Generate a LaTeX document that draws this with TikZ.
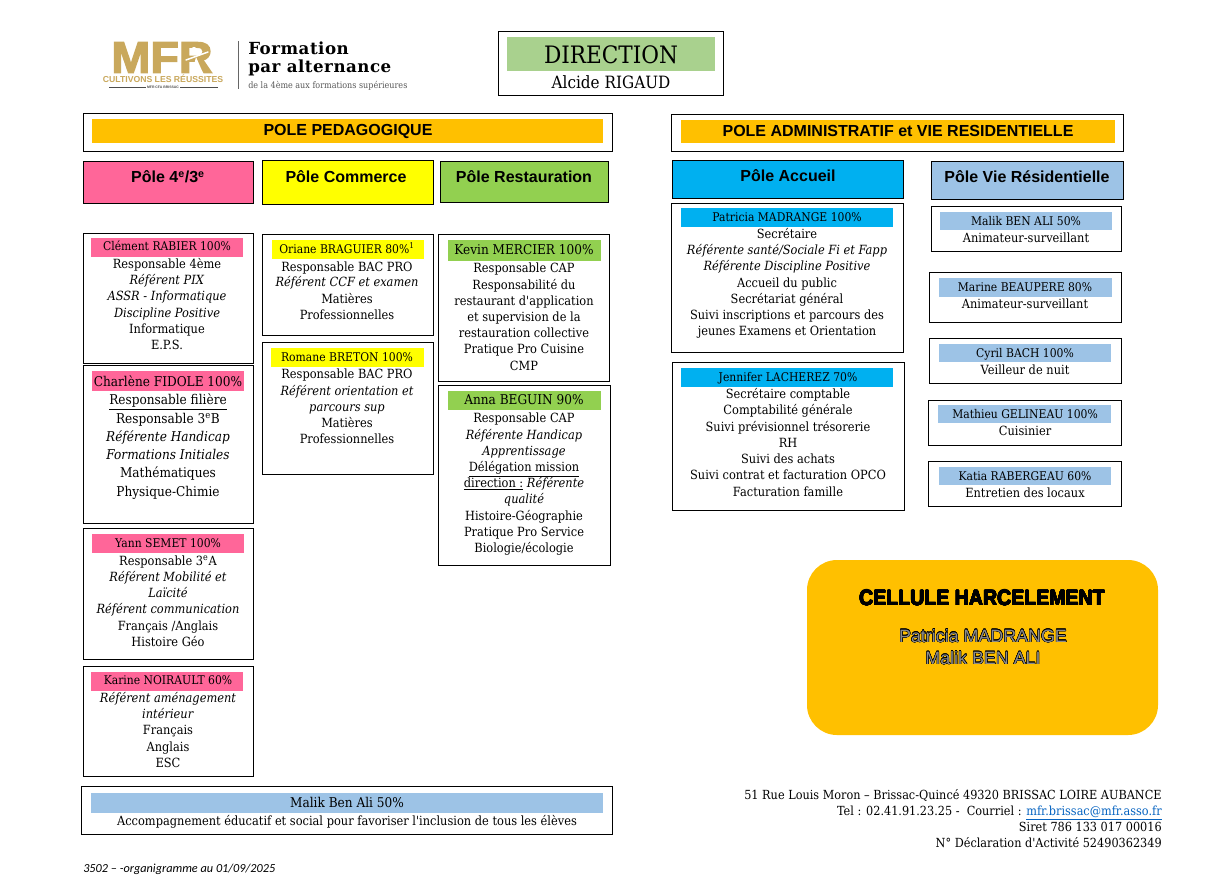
\documentclass[tikz,border=0pt]{standalone}
\usepackage{fontspec}
\usepackage{contour}
\setmainfont{DejaVu Serif}[FakeStretch=0.9,Ligatures=TeXOff]
\newfontfamily\headf{Liberation Sans}
\newfontfamily\cellf{Liberation Sans}[FakeStretch=0.9]
\newfontfamily\logof{Liberation Sans}[FakeStretch=1.06,FakeBold=3]
\newfontfamily\titlef{DejaVu Serif}[LetterSpace=3]
\newfontfamily\footf{Carlito}
\definecolor{cpink}{HTML}{FF6699}
\definecolor{cyel}{HTML}{FFFF00}
\definecolor{cgreen}{HTML}{92D050}
\definecolor{cblue}{HTML}{00B0F0}
\definecolor{cpale}{HTML}{9DC3E6}
\definecolor{cgold}{HTML}{FFC000}
\definecolor{cdir}{HTML}{A9D18E}
\definecolor{clogo}{HTML}{C9A85C}
\definecolor{clink}{HTML}{0563C1}
\contourlength{0.25pt}
\tikzset{
  x=0.75pt,y=-0.75pt,
  frame/.style={draw=black,line width=0.75pt,fill=white},
  txt/.style={inner sep=0pt,font=\fontsize{9.5}{9}\selectfont,anchor=center,text height=7pt,text depth=2pt,yshift=-0.7pt},
  nam/.style={txt,font=\fontsize{9}{9}\selectfont},
  bigt/.style={inner sep=0pt,font=\fontsize{10.1}{10}\selectfont,anchor=center,text height=7.5pt,text depth=2.5pt,yshift=-0.7pt},
  head/.style={inner sep=0pt,font=\headf\bfseries\fontsize{12}{12}\selectfont,anchor=center,text height=9pt,text depth=2.5pt,yshift=-1.2pt},
  rgt/.style={inner sep=0pt,font=\fontsize{9.4}{9}\selectfont,anchor=east,text height=7pt,text depth=2pt,yshift=-0.7pt},
}
\newcommand{\itt}[1]{\textit{#1}}
\begin{document}
\begin{tikzpicture}
\useasboundingbox (0,0) rectangle (1230,883);
\fill[white] (0,0) rectangle (1230,883);
% logo
\node[inner sep=0pt,font=\logof\bfseries\fontsize{33}{33}\selectfont,text=clogo,anchor=center,text height=23.5pt,text depth=0pt] (logomfr) at (162,57) {MFR};
\fill[white] (194,49.5) circle (2.6);
\draw[white,line width=1.1pt,line cap=round] (186,60) -- (208,52);
\fill[white] (196,57) -- (192,73) -- (203,73) -- cycle;
\node[inner sep=0pt,font=\headf\bfseries\fontsize{6.5}{6}\selectfont,text=clogo,anchor=center,text height=4.5pt,text depth=0pt] (logoc) at (163,79) {CULTIVONS LES RÉUSSITES};
\draw[line width=0.4pt,black!70] (109,87) -- (218,87);
\node[inner sep=1pt,fill=white,font=\headf\bfseries\fontsize{2.6}{3}\selectfont,text=black!70] (logod) at (163,87) {MFR CFA BRISSAC};
\draw[line width=0.7pt,black!60] (238,41) -- (238,89);
\node[inner sep=0pt,anchor=west,font=\titlef\bfseries\fontsize{12.5}{12}\selectfont] (f1) at (248,48) {Formation};
\node[inner sep=0pt,anchor=west,font=\titlef\bfseries\fontsize{12.5}{12}\selectfont] (f2) at (248,68) {par alternance};
\node[inner sep=0pt,anchor=west,font=\fontsize{6.7}{6}\selectfont,text=black!65] (f3) at (248,86) {de la 4ème aux formations supérieures};
% direction
\draw[frame] (498,31) rectangle (723,95);
\fill[cdir] (507,37) rectangle (715,71);
\node[inner sep=0pt,font=\fontsize{18}{18}\selectfont] (dir) at (611,55) {DIRECTION};
\node[inner sep=0pt,font=\fontsize{12.7}{12}\selectfont] (alc) at (611,82) {Alcide RIGAUD};
% poles
\draw[frame] (83,113) rectangle (612,151);
\fill[cgold] (92,119) rectangle (603,143);
\node[head] (pp) at (348,130) {POLE PEDAGOGIQUE};
\draw[frame] (671,114) rectangle (1123,151);
\fill[cgold] (681,120) rectangle (1115,143);
\node[head] (pa) at (898,131) {POLE ADMINISTRATIF et VIE RESIDENTIELLE};
\draw[frame,fill=cpink] (83,161) rectangle (253,203);
\node[head] (p1) at (168,177) {Pôle 4\textsuperscript{e}/3\textsuperscript{e}};
\draw[frame,fill=cyel] (262,160) rectangle (433,204);
\node[head] (p2) at (346,177) {Pôle Commerce};
\draw[frame,fill=cgreen] (440,161) rectangle (608,202);
\node[head] (p3) at (524,177) {Pôle Restauration};
\draw[frame,fill=cblue] (672,160) rectangle (903,198);
\node[head] (p4) at (788,176) {Pôle Accueil};
\draw[frame,fill=cpale] (931,161) rectangle (1123,199);
\node[head] (p5) at (1027,177) {Pôle Vie Résidentielle};
% Clement
\draw[frame] (83,233) rectangle (253,363);
\fill[cpink] (91,238) rectangle (243,257);
\node[nam] (a0) at (167,246) {Clément RABIER 100\%};
\node[txt] (a1) at (167,264) {Responsable 4ème};
\node[txt] (a2) at (167,280) {\itt{Référent PIX}};
\node[txt] (a3) at (167,296) {\itt{ASSR - Informatique}};
\node[txt] (a4) at (167,313) {\itt{Discipline Positive}};
\node[txt] (a5) at (167,329) {Informatique};
\node[txt] (a6) at (167,345) {E.P.S.};
% Charlene
\draw[frame] (83,365) rectangle (253,523);
\fill[cpink] (92,371) rectangle (244,391);
\node[bigt] (b0) at (168,382) {Charlène FIDOLE 100\%};
\node[bigt] (b1) at (168,400) {\underline{Responsable filière}};
\node[bigt] (b2) at (168,419) {Responsable 3\textsuperscript{e}B};
\node[bigt] (b3) at (168,437) {\itt{Référente Handicap}};
\node[bigt] (b4) at (168,455) {\itt{Formations Initiales}};
\node[bigt] (b5) at (168,473) {Mathématiques};
\node[bigt] (b6) at (168,492) {Physique-Chimie};
% Yann
\draw[frame] (83,528) rectangle (253,659);
\fill[cpink] (92,534) rectangle (244,553);
\node[nam] (c0) at (168,543) {Yann SEMET 100\%};
\node[txt] (c1) at (168,561) {Responsable 3\textsuperscript{e}A};
\node[txt] (c2) at (168,577) {\itt{Référent Mobilité et}};
\node[txt] (c3) at (168,593) {\itt{Laïcité}};
\node[txt] (c4) at (168,609) {\itt{Référent communication}};
\node[txt] (c5) at (168,626) {Français /Anglais};
\node[txt] (c6) at (168,642) {Histoire Géo};
% Karine
\draw[frame] (83,666) rectangle (253,776);
\fill[cpink] (91,672) rectangle (243,691);
\node[nam] (d0) at (168,680) {Karine NOIRAULT 60\%};
\node[txt] (d1) at (168,698) {\itt{Référent aménagement}};
\node[txt] (d2) at (168,714) {\itt{intérieur}};
\node[txt] (d3) at (168,730) {Français};
\node[txt] (d4) at (168,747) {Anglais};
\node[txt] (d5) at (168,763) {ESC};
% Oriane
\draw[frame] (262,234) rectangle (433,335);
\fill[cyel] (272,240) rectangle (424,259);
\node[nam] (e0) at (347,249) {Oriane BRAGUIER 80\%\textsuperscript{1}};
\node[txt] (e1) at (347,267) {Responsable BAC PRO};
\node[txt] (e2) at (347,282) {\itt{Référent CCF et examen}};
\node[txt] (e3) at (347,299) {Matières};
\node[txt] (e4) at (347,315) {Professionnelles};
% Romane
\draw[frame] (262,342) rectangle (433,474);
\fill[cyel] (271,348) rectangle (424,367);
\node[nam] (f0) at (347,357) {Romane BRETON 100\%};
\node[txt] (f1b) at (347,374) {Responsable BAC PRO};
\node[txt] (f2b) at (347,391) {\itt{Référent orientation et}};
\node[txt] (f3b) at (347,407) {\itt{parcours sup}};
\node[txt] (f4b) at (347,423) {Matières};
\node[txt] (f5b) at (347,439) {Professionnelles};
% Kevin
\draw[frame] (438,234) rectangle (609,381);
\fill[cgreen] (448,240) rectangle (601,261);
\node[bigt] (g0) at (524,250) {Kevin MERCIER 100\%};
\node[txt] (g1) at (524,268) {Responsable CAP};
\node[txt] (g2) at (524,285) {Responsabilité du};
\node[txt] (g3) at (524,301) {restaurant d'application};
\node[txt] (g4) at (524,317) {et supervision de la};
\node[txt] (g5) at (524,333) {restauration collective};
\node[txt] (g6) at (524,349) {Pratique Pro Cuisine};
\node[txt] (g7) at (524,366) {CMP};
% Anna
\draw[frame] (438,385) rectangle (610,565);
\fill[cgreen] (448,391) rectangle (601,410);
\node[bigt] (h0) at (524,400) {Anna BEGUIN 90\%};
\node[txt] (h1) at (524,418) {Responsable CAP};
\node[txt] (h2) at (524,435) {\itt{Référente Handicap}};
\node[txt] (h3) at (524,451) {\itt{Apprentissage}};
\node[txt] (h4) at (524,467) {\underline{Délégation mission}};
\node[txt] (h5) at (524,483) {\underline{direction :} \itt{Référente}};
\node[txt] (h6) at (524,499) {\itt{qualité}};
\node[txt] (h7) at (524,516) {Histoire-Géographie};
\node[txt] (h8) at (524,532) {Pratique Pro Service};
\node[txt] (h9) at (524,548) {Biologie/écologie};
% Patricia
\draw[frame] (671,203) rectangle (903,352);
\fill[cblue] (681,208) rectangle (893,227);
\node[nam] (i0) at (787,217) {Patricia MADRANGE 100\%};
\node[txt] (i1) at (787,234) {Secrétaire};
\node[txt] (i2) at (787,250) {\itt{Référente santé/Sociale Fi et Fapp}};
\node[txt] (i3) at (787,266) {\itt{Référente Discipline Positive}};
\node[txt] (i4) at (787,283) {Accueil du public};
\node[txt] (i5) at (787,299) {Secrétariat général};
\node[txt] (i6) at (787,315) {Suivi inscriptions et parcours des};
\node[txt] (i7) at (787,331) {jeunes Examens et Orientation};
% Jennifer
\draw[frame] (672,362) rectangle (904,510);
\fill[cblue] (681,368) rectangle (893,387);
\node[nam] (j0) at (788,377) {Jennifer LACHEREZ 70\%};
\node[txt] (j1) at (788,394) {Secrétaire comptable};
\node[txt] (j2) at (788,410) {Comptabilité générale};
\node[txt] (j3) at (788,427) {Suivi prévisionnel trésorerie};
\node[txt] (j4) at (788,443) {RH};
\node[txt] (j5) at (788,459) {Suivi des achats};
\node[txt] (j6) at (788,475) {Suivi contrat et facturation OPCO};
\node[txt] (j7) at (788,492) {Facturation famille};
% right column
\draw[frame] (931,206) rectangle (1121,251);
\fill[cpale] (940,212) rectangle (1112,230);
\node[nam] (k0) at (1026,221) {Malik BEN ALI 50\%};
\node[txt] (k1) at (1026,238) {Animateur-surveillant};
\draw[frame] (929,272) rectangle (1121,322);
\fill[cpale] (939,278) rectangle (1112,297);
\node[nam] (l0) at (1025,287) {Marine BEAUPERE 80\%};
\node[txt] (l1) at (1025,304) {Animateur-surveillant};
\draw[frame] (929,338) rectangle (1121,383);
\fill[cpale] (939,344) rectangle (1111,362);
\node[nam] (m0) at (1025,353) {Cyril BACH 100\%};
\node[txt] (m1) at (1025,370) {Veilleur de nuit};
\draw[frame] (928,400) rectangle (1121,445);
\fill[cpale] (938,405) rectangle (1111,423);
\node[nam] (n0) at (1025,414) {Mathieu GELINEAU 100\%};
\node[txt] (n1) at (1025,431) {Cuisinier};
\draw[frame] (928,461) rectangle (1121,506);
\fill[cpale] (939,467) rectangle (1111,485);
\node[nam] (o0) at (1025,476) {Katia RABERGEAU 60\%};
\node[txt] (o1) at (1025,493) {Entretien des locaux};
% bottom
\draw[frame] (81,786) rectangle (612,834);
\fill[cpale] (91,793) rectangle (603,813);
\node[bigt] (q0) at (347,803) {Malik Ben Ali 50\%};
\node[txt] (q1) at (347,821) {Accompagnement éducatif et social pour favoriser l'inclusion de tous les élèves};
% cellule
\fill[cgold,rounded corners=22.5pt] (807,560) rectangle (1158,735);
\node[inner sep=0pt,font=\cellf\bfseries\fontsize{16.3}{16}\selectfont] (ch) at (982,598) {\contour{black}{CELLULE HARCELEMENT}};
\node[inner sep=0pt,font=\headf\fontsize{13.4}{12}\selectfont,text=black!45] (ch1) at (983,636) {\contour{black}{Patricia MADRANGE}};
\node[inner sep=0pt,font=\headf\fontsize{13.4}{12}\selectfont,text=black!45] (ch2) at (983,658) {\contour{black}{Malik BEN ALI}};
% address
\node[rgt] (ad1) at (1162,795) {51 Rue Louis Moron – Brissac-Quincé 49320 BRISSAC LOIRE AUBANCE};
\node[rgt] (ad2) at (1162,811) {Tel : 02.41.91.23.25 -\ \ Courriel : \textcolor{clink}{\underline{mfr.brissac@mfr.asso.fr}}};
\node[rgt] (ad3) at (1162,827) {Siret 786 133 017 00016};
\node[rgt] (ad4) at (1162,843) {N° Déclaration d'Activité 52490362349};
\node[inner sep=0pt,anchor=west,font=\footf\itshape\fontsize{9.2}{9}\selectfont] (foot) at (83,869) {3502 – -organigramme au 01/09/2025};
\end{tikzpicture}
\end{document}
